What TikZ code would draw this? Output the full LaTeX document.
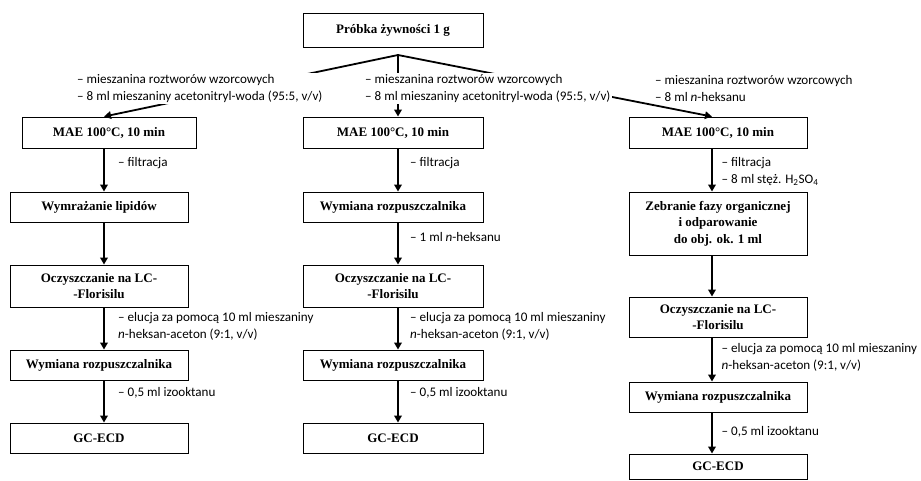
\documentclass[tikz,border=0pt]{standalone}
\usepackage{fontspec}
\setmainfont{Liberation Serif}
\newfontfamily\labfont{Carlito}
\usetikzlibrary{arrows.meta}

\begin{document}
\begin{tikzpicture}[x=1pt, y=-1pt,
    box/.style={draw, line width=0.9pt, align=center, inner sep=0pt,
        font=\fontsize{13}{16.5}\selectfont\bfseries},
    lab/.style={anchor=west, align=left, fill=white, inner sep=1.5pt,
        font=\fontsize{13.1}{17}\selectfont\labfont},
    arr/.style={line width=1.8pt, -{Triangle[length=7pt, width=7.5pt]}}]
    \useasboundingbox (0,0) rectangle (921,480);

    \node[box, minimum width=180pt, minimum height=34pt] (probka) at (393,30) {Próbka żywności 1 g};
    \coordinate (apex) at (398,55);
    \coordinate (cL) at (104,0);
    \coordinate (cM) at (398,0);
    \coordinate (cR) at (712,0);

    % lewa kolumna
    \node[box, minimum width=174pt, minimum height=31pt] (L1) at (109,132.5) {MAE 100°C, 10 min};
    \node[box, minimum width=178pt, minimum height=30pt] (L2) at (99,207) {Wymrażanie lipidów};
    \node[box, minimum width=178pt, minimum height=42pt] (L3) at (99,286) {Oczyszczanie na LC-\\-Florisilu};
    \node[box, minimum width=178pt, minimum height=30pt] (L4) at (99,365) {Wymiana rozpuszczalnika};
    \node[box, minimum width=178pt, minimum height=30pt] (L5) at (99,438) {GC-ECD};

    % srodkowa kolumna
    \node[box, minimum width=180pt, minimum height=31pt] (M1) at (393,132.5) {MAE 100°C, 10 min};
    \node[box, minimum width=180pt, minimum height=30pt] (M2) at (393,207) {Wymiana rozpuszczalnika};
    \node[box, minimum width=180pt, minimum height=42pt] (M3) at (393,286) {Oczyszczanie na LC-\\-Florisilu};
    \node[box, minimum width=180pt, minimum height=30pt] (M4) at (393,365) {Wymiana rozpuszczalnika};
    \node[box, minimum width=180pt, minimum height=30pt] (M5) at (393,438) {GC-ECD};

    % prawa kolumna
    \node[box, minimum width=178pt, minimum height=31pt] (R1) at (718,132.5) {MAE 100°C, 10 min};
    \node[box, minimum width=178pt, minimum height=63pt] (R2) at (718,223.5) {Zebranie fazy organicznej\\i odparowanie\\do obj. ok. 1 ml};
    \node[box, minimum width=178pt, minimum height=40pt] (R3) at (718,317) {Oczyszczanie na LC-\\-Florisilu};
    \node[box, minimum width=178pt, minimum height=30pt] (R4) at (718,397) {Wymiana rozpuszczalnika};
    \node[box, minimum width=178pt, minimum height=25pt] (R5) at (718,466.5) {GC-ECD};

    \draw[arr] (apex) -- (L1.north -| cL);
    \draw[arr] (apex) -- (M1.north -| cM);
    \draw[arr] (apex) -- (R1.north -| cR);

    \draw[arr] (L1.south -| cL) -- (L2.north -| cL);
    \draw[arr] (L2.south -| cL) -- (L3.north -| cL);
    \draw[arr] (L3.south -| cL) -- (L4.north -| cL);
    \draw[arr] (L4.south -| cL) -- (L5.north -| cL);

    \draw[arr] (M1.south -| cM) -- (M2.north -| cM);
    \draw[arr] (M2.south -| cM) -- (M3.north -| cM);
    \draw[arr] (M3.south -| cM) -- (M4.north -| cM);
    \draw[arr] (M4.south -| cM) -- (M5.north -| cM);

    \draw[arr] (R1.south -| cR) -- (R2.north -| cR);
    \draw[arr] (R2.south -| cR) -- (R3.north -| cR);
    \draw[arr] (R3.south -| cR) -- (R4.north -| cR);
    \draw[arr] (R4.south -| cR) -- (R5.north -| cR);

    % opisy
    \node[lab] (tL) at (75.5,88.5) {– mieszanina roztworów wzorcowych\\– 8 ml mieszaniny acetonitryl-woda (95:5, v/v)};
    \node[lab] (tM) at (363.5,88.5) {– mieszanina roztworów wzorcowych\\– 8 ml mieszaniny acetonitryl-woda (95:5, v/v)};
    \node[lab] (tR) at (653.5,88.5) {– mieszanina roztworów wzorcowych\\– 8 ml \textit{n}-heksanu};

    \node[lab] (fL) at (116.5,163) {– filtracja};
    \node[lab] (fM) at (408.5,163) {– filtracja};
    \node[lab] (fR) at (720,171.5) {– filtracja\\– 8 ml stęż. H\textsubscript{2}SO\textsubscript{4}};
    \node[lab] (hM) at (408.5,237) {– 1 ml \textit{n}-heksanu};

    \node[lab] (eL) at (116.5,326.5) {– elucja za pomocą 10 ml mieszaniny\\\textit{n}-heksan-aceton (9:1, v/v)};
    \node[lab] (eM) at (408.5,326.5) {– elucja za pomocą 10 ml mieszaniny\\\textit{n}-heksan-aceton (9:1, v/v)};
    \node[lab] (eR) at (720,357.5) {– elucja za pomocą 10 ml mieszaniny\\\textit{n}-heksan-aceton (9:1, v/v)};

    \node[lab] (iL) at (116.5,393) {– 0,5 ml izooktanu};
    \node[lab] (iM) at (408.5,393) {– 0,5 ml izooktanu};
    \node[lab] (iR) at (720,432) {– 0,5 ml izooktanu};
\end{tikzpicture}
\end{document}
